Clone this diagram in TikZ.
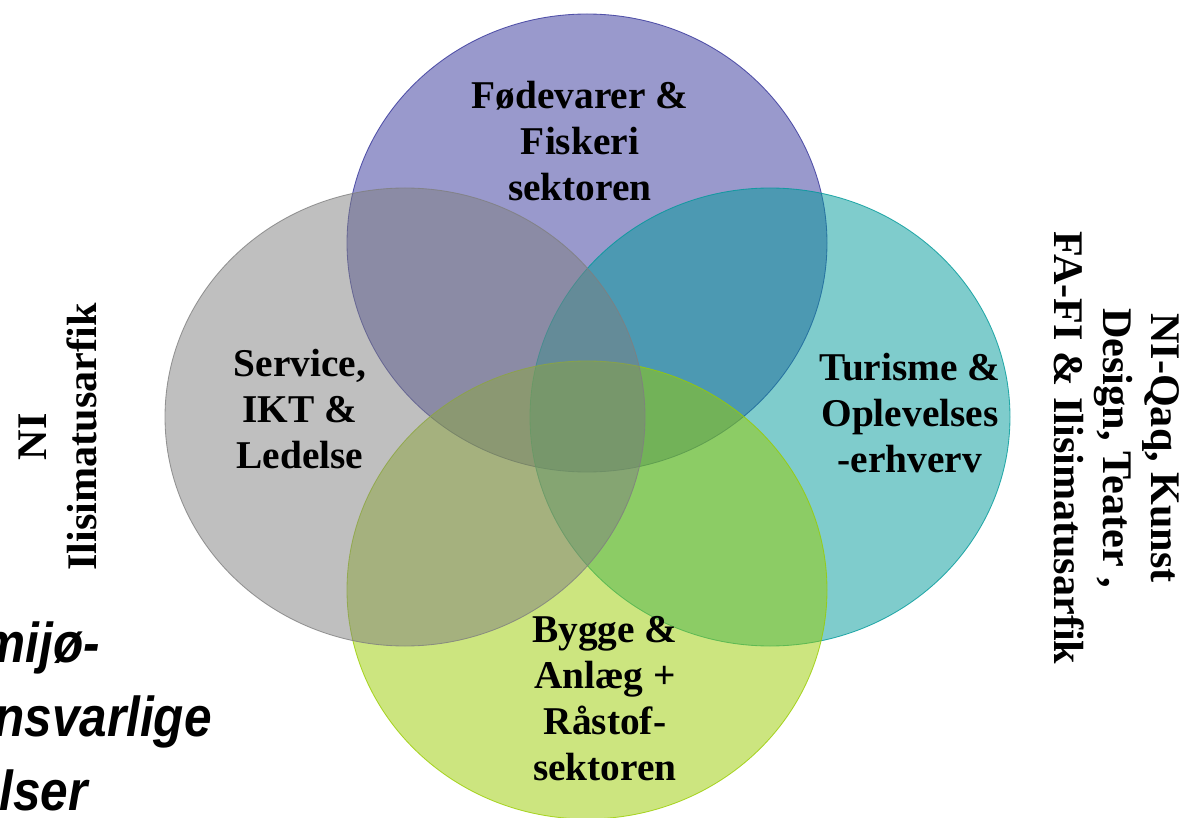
\documentclass[tikz,border=0pt]{standalone}
\usepackage{fontspec}
\setmainfont{Liberation Serif}
\setsansfont{Liberation Sans}
\newfontfamily\ecofont[FakeStretch=0.88]{Liberation Sans}
\usepackage{tikz}
\usetikzlibrary{shapes.geometric}
\definecolor{foodblue}{RGB}{51,51,153}
\definecolor{servgray}{RGB}{127,127,127}
\definecolor{tourteal}{RGB}{0,153,153}
\definecolor{buildgreen}{RGB}{153,204,0}
\tikzset{
  sector/.style={ellipse,minimum width=12cm,minimum height=11.45cm,draw=#1,fill=#1,fill opacity=0.5,draw opacity=0.8,line width=0.6pt},
  lbl/.style={align=center,inner sep=0pt,font=\fontsize{28}{32.7}\selectfont\bfseries},
  side/.style={align=center,inner sep=0pt,font=\fontsize{30}{34.5}\selectfont\bfseries},
  eco/.style={anchor=base east,inner sep=0pt,font=\fontsize{40}{48}\selectfont\ecofont\bfseries\itshape}
}

\begin{document}
\begin{tikzpicture}
\useasboundingbox (0,0) rectangle (29.875,20.425);
\node[sector=foodblue](food) at (14.675,14.35){};
\node[sector=tourteal](tourism) at (19.25,10.0){};
\node[sector=buildgreen](building) at (14.675,5.675){};
\node[sector=servgray](service) at (10.125,10.0){};
\node[lbl](foodtxt) at (14.5,16.9){Fødevarer \&\\Fiskeri\\sektoren};
\node[lbl](servicetxt) at (7.5,10.2){Service,\\IKT \&\\Ledelse};
\node[lbl](tourismtxt) at (22.75,10.1){Turisme \&\\Oplevelses\\-erhverv};
\node[lbl](buildingtxt) at (15.125,2.95){Bygge \&\\Anlæg +\\Råstof-\\sektoren};
\node[side,rotate=90,font=\fontsize{30}{36}\selectfont\bfseries](uni) at (1.45,9.5){NI\\Ilisimatusarfik};
\node[side,rotate=-90](arts) at (27.925,9.225){NI-Qaq, Kunst\\Design, Teater ,\\FA-FI \& Ilisimatusarfik};
\node[eco](eco1) at (2.5,3.875){mijø-};
\node[eco](eco2) at (5.3,2.025){nsvarlige};
\node[eco](eco3) at (2.2,0.175){lser};
\end{tikzpicture}
\end{document}
